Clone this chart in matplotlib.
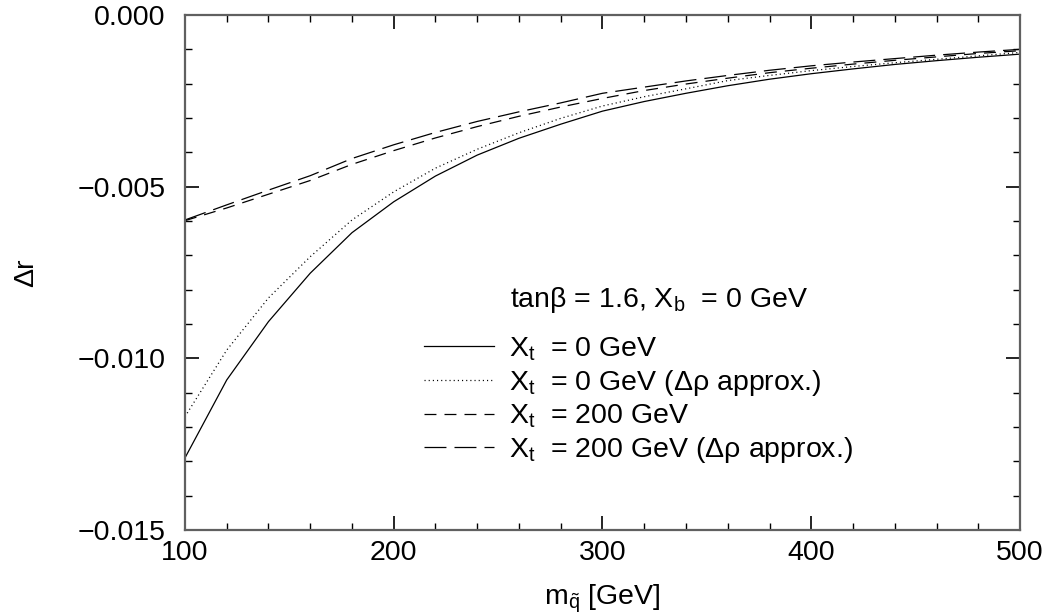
import numpy as np
import matplotlib
matplotlib.use("Agg")
import matplotlib.pyplot as plt
from matplotlib.ticker import MultipleLocator, FuncFormatter

plt.rcParams['font.family'] = ['Liberation Sans', 'DejaVu Sans']
plt.rcParams['mathtext.fontset'] = 'custom'
plt.rcParams['mathtext.rm'] = 'Liberation Sans'
plt.rcParams['mathtext.it'] = 'Liberation Sans:italic'
plt.rcParams['lines.scale_dashes'] = False

# squark mass scan (GeV)
m_sq = [100, 120, 140, 160, 180, 200, 220, 240, 260, 280, 300,
        320, 340, 360, 380, 400, 420, 440, 460, 480, 500]

# Delta r, X_t = 0 GeV (full)
dr_xt0 = [-0.01290, -0.01063, -0.00893, -0.00752, -0.00634, -0.00544, -0.00469,
          -0.00408, -0.00359, -0.00318, -0.00280, -0.00252, -0.00228, -0.00206,
          -0.00187, -0.00171, -0.00157, -0.00144, -0.00133, -0.00123, -0.00114]

# Delta r, X_t = 0 GeV (Delta rho approximation)
dr_xt0_rho = [-0.01170, -0.00976, -0.00824, -0.00704, -0.00597, -0.00515, -0.00446,
              -0.00391, -0.00343, -0.00301, -0.00265, -0.00238, -0.00215, -0.00191,
              -0.00176, -0.00162, -0.00150, -0.00139, -0.00129, -0.00119, -0.00109]

# Delta r, X_t = 200 GeV (full)
dr_xt200 = [-0.00599, -0.00562, -0.00522, -0.00482, -0.00435, -0.00395, -0.00358,
            -0.00325, -0.00295, -0.00268, -0.00243, -0.00220, -0.00201, -0.00184,
            -0.00168, -0.00155, -0.00143, -0.00132, -0.00122, -0.00112, -0.00104]

# Delta r, X_t = 200 GeV (Delta rho approximation)
dr_xt200_rho = [-0.00597, -0.00553, -0.00510, -0.00468, -0.00418, -0.00378, -0.00342,
                -0.00310, -0.00282, -0.00256, -0.00228, -0.00210, -0.00192, -0.00176,
                -0.00161, -0.00148, -0.00137, -0.00127, -0.00117, -0.00108, -0.00100]

fs = 20.5

fig = plt.figure(figsize=(10.48, 6.15), dpi=100)
ax = fig.add_axes([0.1765, 0.1382, 0.7968, 0.8374])

lw = 0.9
ax.plot(m_sq, dr_xt0, color='black', lw=lw, ls='-',
        label=r'X$_{\mathrm{t}}$  = 0 GeV')
ax.plot(m_sq, dr_xt0_rho, color='black', lw=lw, dashes=(0.8, 2.2),
        label=r'X$_{\mathrm{t}}$  = 0 GeV (Δρ approx.)')
ax.plot(m_sq, dr_xt200, color='black', lw=lw, dashes=(8.6, 5.8),
        label=r'X$_{\mathrm{t}}$  = 200 GeV')
ax.plot(m_sq, dr_xt200_rho, color='black', lw=lw, dashes=(15.8, 5.8),
        label=r'X$_{\mathrm{t}}$  = 200 GeV (Δρ approx.)')

ax.set_xlim(100, 500)
ax.set_ylim(-0.015, 0.0)
ax.xaxis.set_major_locator(MultipleLocator(100))
ax.xaxis.set_minor_locator(MultipleLocator(20))
ax.yaxis.set_major_locator(MultipleLocator(0.005))
ax.yaxis.set_minor_locator(MultipleLocator(0.001))
ax.yaxis.set_major_formatter(
    FuncFormatter(lambda v, p: ('%.3f' % v).replace('-', '\u2212')))

ax.tick_params(which='both', direction='in', top=True, right=True,
               labelsize=fs, colors='black')
ax.tick_params(which='major', length=10, width=1.2)
ax.tick_params(which='minor', length=5, width=1.0)
ax.tick_params(axis='x', which='major', pad=7)
ax.tick_params(axis='y', which='major', pad=14)
for sp in ax.spines.values():
    sp.set_color('#606060')
    sp.set_linewidth(1.6)

ax.set_xlabel(r'm$_{\tilde{\mathrm{q}}}$ [GeV]', fontsize=fs, labelpad=12)
ax.set_ylabel('Δr', fontsize=fs)
ax.yaxis.set_label_coords(-0.175, 0.5)

# legend header line, aligned with the entry labels
ax.text(0.389, 0.447, r'tanβ = 1.6, X$_{\mathrm{b}}$  = 0 GeV',
        transform=ax.transAxes, fontsize=fs, ha='left', va='center')
ax.legend(loc='upper left', bbox_to_anchor=(0.286, 0.378),
          frameon=False, fontsize=fs,
          handlelength=2.45, handletextpad=0.55, labelspacing=0.175,
          borderpad=0.0, borderaxespad=0.0)

fig.savefig('out.png', dpi=100)
